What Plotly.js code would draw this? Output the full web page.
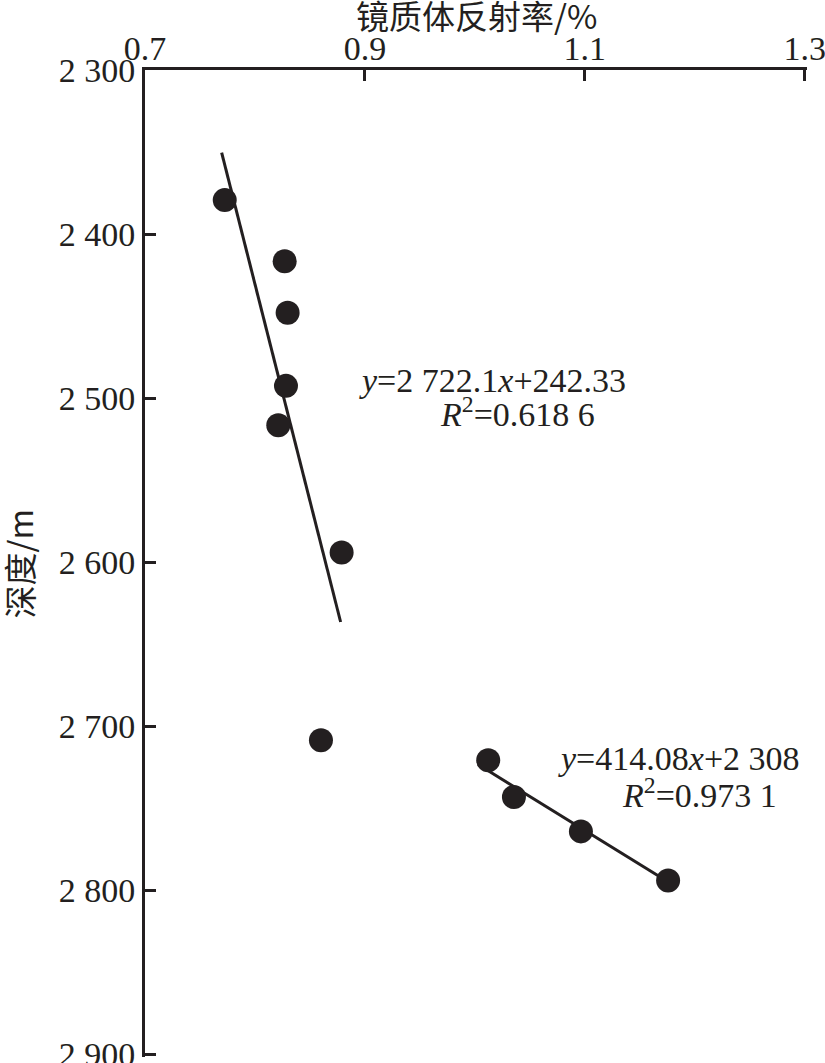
<!DOCTYPE html>
<html>
<head>
<meta charset="utf-8">
<script src="https://cdn.plot.ly/plotly-3.0.1.min.js"></script>
<style>html,body{margin:0;padding:0;background:#fff;}#chart{width:825px;height:1063px;}</style>
</head>
<body>
<div id="chart"></div>
<script>
// Data
const vitriniteRo = [0.7725, 0.8270, 0.8297, 0.8282, 0.8212, 0.8788, 0.8600, 1.0121, 1.0355, 1.0964, 1.1757];
const depthM = [2379.3, 2416.5, 2448.0, 2492.5, 2516.5, 2594.1, 2708.5, 2720.7, 2743.0, 2764.0, 2793.9];
const fit1X = [0.7697, 0.8779];
const fit1Y = [2350.4, 2636.4];
const fit2X = [1.003, 1.1755];
const fit2Y = [2723.3, 2794.7];
const xTickVals = [0.7, 0.9, 1.1, 1.3];
const xTickText = ["0.7", "0.9", "1.1", "1.3"];
const yTickVals = [2300, 2400, 2500, 2600, 2700, 2800, 2900];
const yTickText = ["2 300", "2 400", "2 500", "2 600", "2 700", "2 800", "2 900"];
const xTitle = "镜质体反射率/%";
const yTitle = "深度/m";

const ink = "#231f20";
const serif = "Liberation Serif";
const cjk = "Noto Sans CJK SC";

const traces = [
  {x: fit1X, y: fit1Y, mode: "lines", line: {color: ink, width: 3}, hoverinfo: "skip"},
  {x: fit2X, y: fit2Y, mode: "lines", line: {color: ink, width: 3}, hoverinfo: "skip"},
  {x: vitriniteRo, y: depthM, mode: "markers", marker: {color: ink, size: 24}}
];

const annFont = {family: serif, size: 34, color: ink};
const tickFont = {family: serif, size: 34, color: ink};
const layout = {
  width: 825, height: 1063,
  margin: {l: 145, r: 18, t: 70, b: 6},
  paper_bgcolor: "#fff", plot_bgcolor: "#fff",
  showlegend: false,
  font: {family: serif, color: ink},
  xaxis: {
    side: "top", range: [0.7, 1.302], tickvals: xTickVals, ticktext: xTickText,
    ticks: "inside", ticklen: 11, tickwidth: 3, tickcolor: ink,
    showline: true, linewidth: 3, linecolor: ink, showgrid: false, zeroline: false,
    tickfont: tickFont, ticklabeloverflow: "allow", ticklabelstandoff: -7
  },
  yaxis: {
    range: [2901.5, 2300], tickvals: yTickVals, ticktext: yTickText,
    ticks: "inside", ticklen: 11, tickwidth: 3, tickcolor: ink,
    showline: true, linewidth: 3, linecolor: ink, showgrid: false, zeroline: false,
    tickfont: tickFont, ticklabeloverflow: "allow"
  },
  annotations: [
    {x: 0.5, y: 1, xref: "paper", yref: "paper", yanchor: "middle", yshift: 55, showarrow: false,
     font: {family: cjk, size: 33, color: ink}, text: xTitle},
    {x: 0, y: 0.5, xref: "paper", yref: "paper", xanchor: "center", xshift: -127, showarrow: false,
     textangle: -90, font: {family: cjk, size: 33, color: ink}, text: yTitle},
    {x: 1.0164, y: 2489, xref: "x", yref: "y", showarrow: false, font: annFont,
     text: "<i>y</i>=2 722.1<i>x</i>+242.33"},
    {x: 1.039, y: 2508.5, xref: "x", yref: "y", showarrow: false, font: annFont,
     text: "<i>R</i><sup>2</sup>=0.618 6"},
    {x: 1.1855, y: 2719.5, xref: "x", yref: "y", showarrow: false, font: annFont,
     text: "<i>y</i>=414.08<i>x</i>+2 308"},
    {x: 1.2045, y: 2740.9, xref: "x", yref: "y", showarrow: false, font: annFont,
     text: "<i>R</i><sup>2</sup>=0.973 1"}
  ]
};

Plotly.newPlot("chart", traces, layout, {displayModeBar: false, staticPlot: true});
</script>
</body>
</html>
